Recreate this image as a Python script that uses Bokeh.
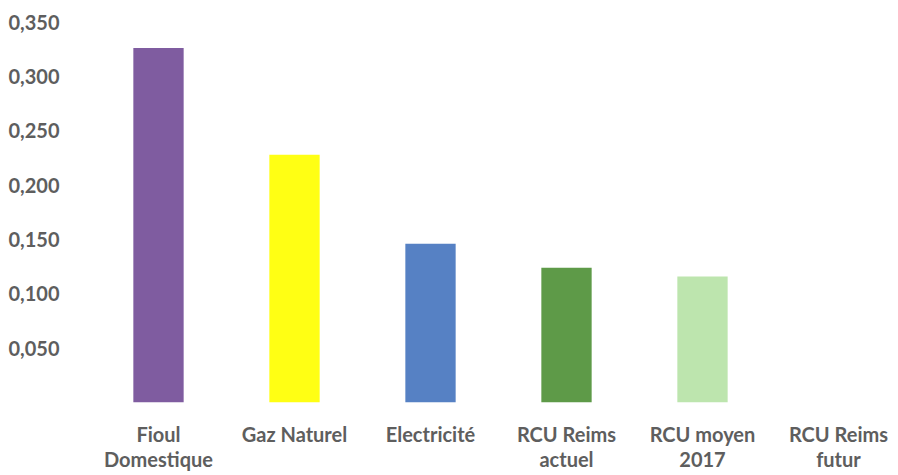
from bokeh.plotting import figure
from bokeh.models import Range1d, FixedTicker, ColumnDataSource
from bokeh.embed import file_html
from bokeh.resources import INLINE

categories = ["Fioul\nDomestique", "Gaz Naturel", "Electricité",
              "RCU Reims\nactuel", "RCU moyen\n2017", "RCU Reims\nfutur"]
values = [0.326, 0.228, 0.146, 0.124, 0.116, 0.0]
colors = ["#7F5CA0", "#FFFF14", "#5681C4", "#5E9A48", "#BDE5AE", "#FFFFFF"]
y_ticks = [0.0, 0.05, 0.10, 0.15, 0.20, 0.25, 0.30, 0.35]
y_tick_labels = ["", "0,050", "0,100", "0,150", "0,200", "0,250", "0,300", "0,350"]

idx = list(range(len(categories)))
src = ColumnDataSource(dict(x=idx, top=values, color=colors))

W, H = 898, 475
left, top_b, bottom_b = 68, 10, 73
unit = 136.0
x0 = -(158 - left) / unit
x1 = x0 + (W - left) / unit
ypx = 1087.0
y1 = 0.35 + (21.5 - top_b) / ypx

p = figure(width=W, height=H, output_backend="svg", toolbar_location=None,
           x_range=Range1d(x0, x1), y_range=Range1d(0, y1),
           min_border_left=left, min_border_right=0,
           min_border_top=top_b, min_border_bottom=bottom_b)
p.vbar(x="x", top="top", width=0.37, color="color", line_color=None, source=src)

p.xaxis.ticker = FixedTicker(ticks=idx)
p.xaxis.major_label_overrides = {i: c for i, c in zip(idx, categories)}
p.yaxis.ticker = FixedTicker(ticks=y_ticks)
p.yaxis.major_label_overrides = {t: l for t, l in zip(y_ticks, y_tick_labels)}

for ax in (p.xaxis, p.yaxis):
    ax.axis_line_color = None
    ax.major_tick_line_color = None
    ax.minor_tick_line_color = None
    ax.major_label_text_font = "Lato"
    ax.major_label_text_font_size = "20px"
    ax.major_label_text_font_style = "bold"
    ax.major_label_text_color = "#5e5e5e"
p.xaxis.major_label_standoff = 13
p.yaxis.major_label_standoff = 3
p.xaxis.major_label_text_line_height = 1.06

p.xgrid.visible = False
p.ygrid.visible = False
p.outline_line_color = None
p.background_fill_color = "white"
p.border_fill_color = "white"

open("out.html", "w").write(file_html(p, INLINE))
